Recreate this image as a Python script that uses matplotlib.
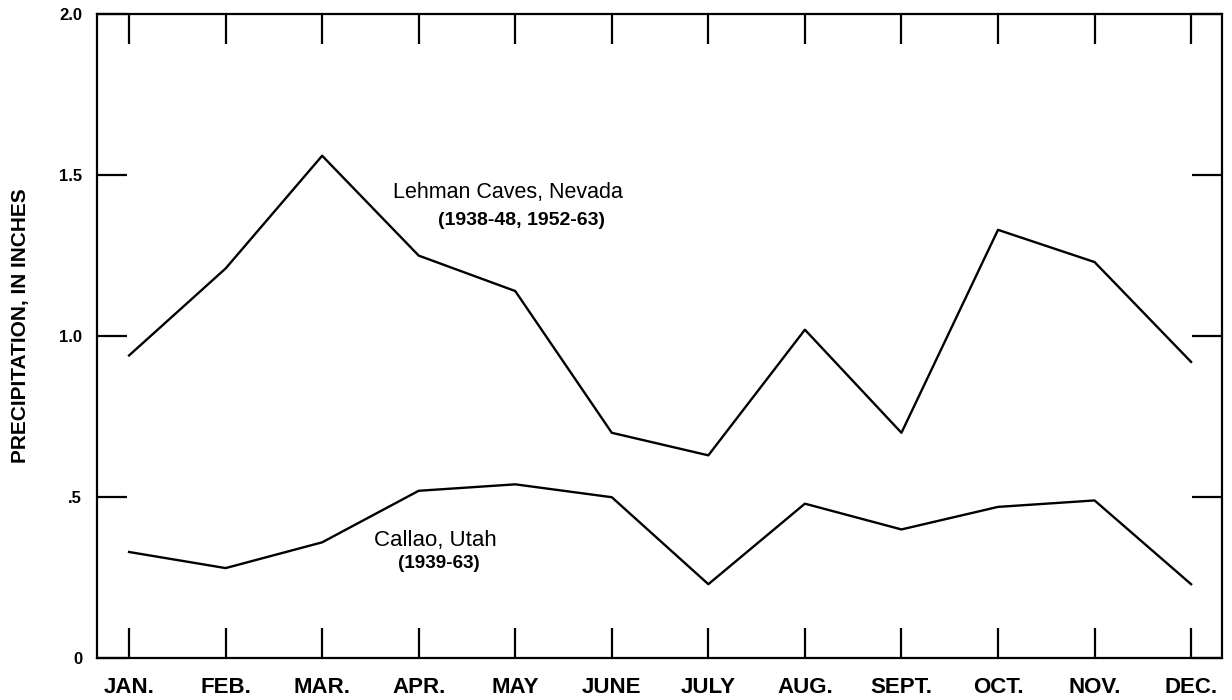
import matplotlib
matplotlib.use("Agg")
import matplotlib.pyplot as plt

months = ["JAN.", "FEB.", "MAR.", "APR.", "MAY", "JUNE", "JULY", "AUG.", "SEPT.", "OCT.", "NOV.", "DEC."]
lehman = [0.94, 1.21, 1.56, 1.25, 1.14, 0.70, 0.63, 1.02, 0.70, 1.33, 1.23, 0.92]
callao = [0.33, 0.28, 0.36, 0.52, 0.54, 0.50, 0.23, 0.48, 0.40, 0.47, 0.49, 0.23]
yticks = [0, 0.5, 1.0, 1.5, 2.0]
ytick_labels = ["0", ".5", "1.0", "1.5", "2.0"]

plt.rcParams['font.family'] = ['Liberation Sans', 'DejaVu Sans']

fig = plt.figure(figsize=(12.32, 7.0), dpi=100)
ax = fig.add_axes([96.7/1232, 1 - 658.3/700, (1222 - 96.7)/1232, (658.3 - 14)/700])

x = list(range(len(months)))
ax.plot(x, lehman, color="black", lw=1.7)
ax.plot(x, callao, color="black", lw=1.7)

ax.set_xlim(-0.335, 11.32)
ax.set_ylim(0, 2.0)

for s in ax.spines.values():
    s.set_linewidth(1.6)
    s.set_color("black")

ax.set_xticks(x)
ax.set_xticklabels(months, fontsize=16, fontweight="bold")
ax.set_yticks(yticks)
ax.set_yticklabels(ytick_labels, fontsize=12, fontweight="bold")
ax.tick_params(axis="x", which="both", direction="in", length=21.6, width=1.6,
               top=True, bottom=True, pad=13.5)
ax.tick_params(axis="y", which="both", direction="in", length=21.6, width=1.6,
               left=True, right=True, pad=10.5)

ax.text(3.92, 1.445, "Lehman Caves, Nevada", fontsize=15.5, ha="center", va="center")
ax.text(4.06, 1.358, "(1938-48, 1952-63)", fontsize=14, fontweight="bold", ha="center", va="center")
ax.text(3.17, 0.367, "Callao, Utah", fontsize=16, ha="center", va="center")
ax.text(3.21, 0.293, "(1939-63)", fontsize=13.6, fontweight="bold", ha="center", va="center")

fig.text(21/1232, 1 - 326/700, "PRECIPITATION, IN INCHES", rotation=90,
         fontsize=15, fontweight="bold", ha="center", va="center")

fig.savefig("out.png", dpi=100, facecolor="white")
